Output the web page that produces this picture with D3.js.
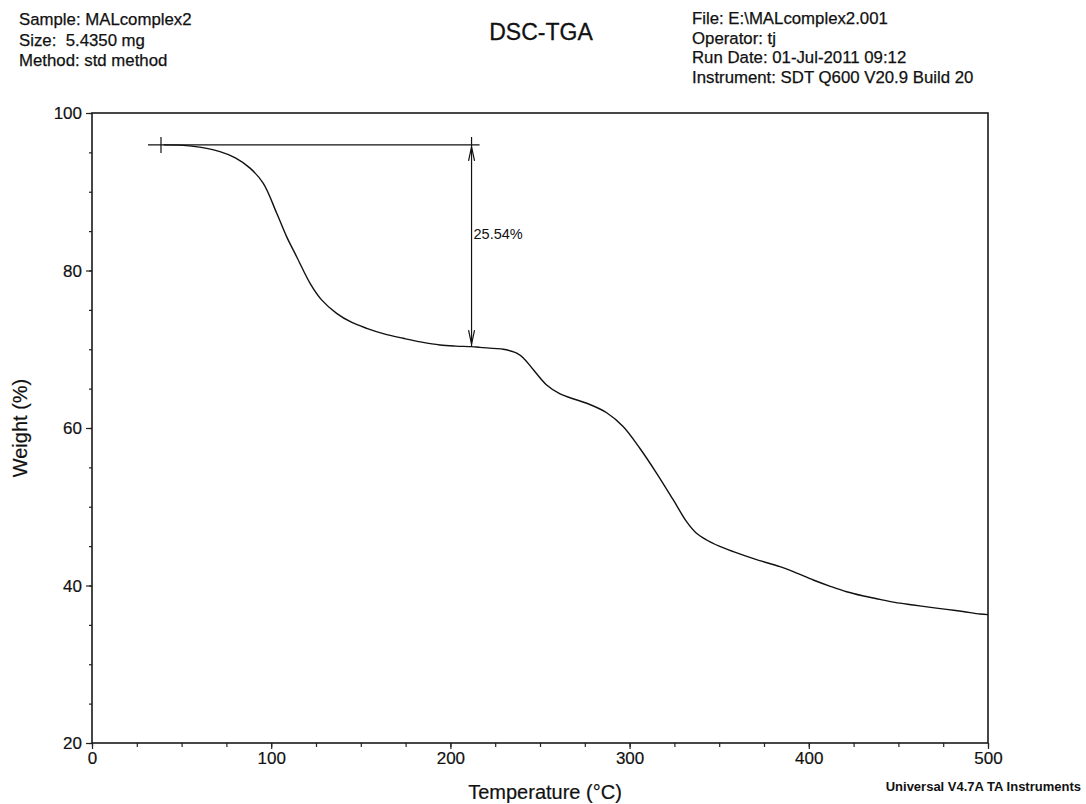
<!DOCTYPE html>
<html>
<head>
<meta charset="utf-8">
<script src="https://cdn.jsdelivr.net/npm/d3@7"></script>
<style>
  html, body { margin: 0; padding: 0; background: #fff; }
  svg { display: block; font-family: "Liberation Sans", Arial, sans-serif; }
  .hdr { font-size: 16.8px; fill: #111; stroke: #111; stroke-width: 0.25px; }
  .tick-label { font-size: 17px; fill: #111; stroke: #111; stroke-width: 0.2px; }
  .axis-title { font-size: 20px; fill: #111; stroke: #111; stroke-width: 0.2px; }
</style>
</head>
<body>
<svg id="chart"></svg>
<script>
// TGA trace: temperature (°C) and weight (%)
const temps = [40, 55.6, 71.4, 80, 88.2, 95.6, 103.1, 108.6, 114.2, 121.7, 128, 136.5, 145, 153.3,
  163, 173.7, 184, 194.2, 203, 211.8, 216.5, 229.5, 233.3, 237, 240.7, 246.3, 253.7, 261.2, 268, 276.1,
  287.2, 296.5, 305.8, 315.1, 324.4, 331.8, 337, 343, 350, 357.9, 370, 383.9, 392, 402.5, 412,
  421.1, 430, 439.7, 448, 458.3, 467, 476.9, 486, 495.5, 500];
const weights = [95.95, 95.8, 95.1, 94.3, 93.0, 91.07, 87.26, 84.3, 81.75, 78.37, 76.3, 74.56, 73.4, 72.66,
  71.95, 71.39, 70.9, 70.54, 70.4, 70.33, 70.24, 70.0, 69.8, 69.5, 68.9, 67.4, 65.46, 64.32, 63.75, 63.14,
  61.94, 60.17, 57.4, 54.25, 50.86, 48.1, 46.7, 45.78, 45.0, 44.3, 43.35, 42.39, 41.7, 40.7, 39.9,
  39.21, 38.7, 38.24, 37.85, 37.52, 37.25, 36.97, 36.7, 36.38, 36.3];

const xMajorTicks = [0, 100, 200, 300, 400, 500];
const yMajorTicks = [20, 40, 60, 80, 100];

const leftHeader = ["Sample: MALcomplex2", "Size:  5.4350 mg", "Method: std method"];
const rightHeader = ["File: E:\\MALcomplex2.001", "Operator: tj", "Run Date: 01-Jul-2011 09:12",
  "Instrument: SDT Q600 V20.9 Build 20"];

// step analysis marker
const stepStartT = 38.5;
const stepEndT = 211.8;
const stepTop = 95.94;
const stepBottom = 70.40;
const stepLabel = "25.54%";

const w = 1086, h = 804;
const margin = { left: 92, right: 98, top: 113, bottom: 61 };

const svg = d3.select("#chart").attr("width", w).attr("height", h);
svg.append("rect").attr("width", w).attr("height", h).attr("fill", "#fff");

const xScale = d3.scaleLinear().domain([0, 500]).range([margin.left, w - margin.right]);
const yScale = d3.scaleLinear().domain([20, 100]).range([h - margin.bottom, margin.top]);

// header texts
svg.selectAll("text.lh").data(leftHeader).enter().append("text")
  .attr("class", "hdr").attr("x", 19).attr("y", (d, i) => 25 + i * 20.5)
  .attr("xml:space", "preserve").text(d => d);
svg.selectAll("text.rh").data(rightHeader).enter().append("text")
  .attr("class", "hdr").attr("x", 692).attr("y", (d, i) => 24 + i * 19.7)
  .text(d => d);
svg.append("text").attr("x", 541).attr("y", 40).attr("text-anchor", "middle")
  .style("font-size", "23px").attr("fill", "#111").attr("stroke", "#111").attr("stroke-width", 0.3)
  .text("DSC-TGA");

// axes
const xMinor = d3.axisBottom(xScale).tickValues(d3.range(0, 501, 25)).tickSize(4).tickFormat("");
const xMajor = d3.axisBottom(xScale).tickValues(xMajorTicks).tickSize(6).tickPadding(3).tickFormat(d3.format("d"));
const yMinor = d3.axisLeft(yScale).tickValues(d3.range(20, 101, 5)).tickSize(3).tickFormat("");
const yMajor = d3.axisLeft(yScale).tickValues(yMajorTicks).tickSize(6).tickPadding(4).tickFormat(d3.format("d"));

const gx = h - margin.bottom;
[xMinor, xMajor].forEach(ax => {
  svg.append("g").attr("transform", "translate(0," + gx + ")").call(ax)
    .call(g => g.select(".domain").remove())
    .call(g => g.selectAll("line").attr("stroke", "#222").attr("stroke-width", 1.2))
    .call(g => g.selectAll("text").attr("class", "tick-label").attr("fill", "#111").style("font-family", null));
});
[yMinor, yMajor].forEach(ax => {
  svg.append("g").attr("transform", "translate(" + margin.left + ",0)").call(ax)
    .call(g => g.select(".domain").remove())
    .call(g => g.selectAll("line").attr("stroke", "#222").attr("stroke-width", 1.2))
    .call(g => g.selectAll("text").attr("class", "tick-label").attr("fill", "#111").attr("dy", "0.35em").style("font-family", null));
});

// frame
svg.append("rect")
  .attr("x", xScale(0)).attr("y", yScale(100))
  .attr("width", xScale(500) - xScale(0)).attr("height", yScale(20) - yScale(100))
  .attr("fill", "none").attr("stroke", "#1a1a1a").attr("stroke-width", 1.6);

// axis titles
svg.append("text").attr("class", "axis-title").attr("x", 545).attr("y", 799)
  .attr("text-anchor", "middle").text("Temperature (°C)");
svg.append("text").attr("class", "axis-title")
  .attr("transform", "translate(27," + ((yScale(100) + yScale(20)) / 2) + ") rotate(-90)")
  .attr("text-anchor", "middle").text("Weight (%)");

svg.append("text").attr("x", 1081).attr("y", 791).attr("text-anchor", "end")
  .style("font-size", "13px").style("font-weight", "bold").attr("fill", "#111")
  .text("Universal V4.7A TA Instruments");

// curve
const dataset = temps.map((t, i) => [t, weights[i]]);
const line = d3.line().x(d => xScale(d[0])).y(d => yScale(d[1])).curve(d3.curveCatmullRom.alpha(0.5));
svg.append("path").datum(dataset).attr("d", line)
  .attr("fill", "none").attr("stroke", "#111").attr("stroke-width", 1.4);

// step change annotation
const ann = svg.append("g").attr("stroke", "#111").attr("stroke-width", 1.2).attr("fill", "none");
const yTop = yScale(stepTop), yBot = yScale(stepBottom);
const xs = xScale(stepStartT), xe = xScale(stepEndT);
ann.append("line").attr("x1", xs - 13).attr("x2", xe + 8).attr("y1", yTop).attr("y2", yTop);
ann.append("line").attr("x1", xs).attr("x2", xs).attr("y1", yTop - 8).attr("y2", yTop + 8);
ann.append("line").attr("x1", xe).attr("x2", xe).attr("y1", yTop - 8).attr("y2", yBot);
ann.append("path").attr("d", `M${xe - 3},${yTop + 16} L${xe},${yTop + 2} L${xe + 3},${yTop + 16}`);
ann.append("path").attr("d", `M${xe - 3},${yBot - 16} L${xe},${yBot - 2} L${xe + 3},${yBot - 16}`);
svg.append("text").attr("x", xe + 2).attr("y", yScale((stepTop + stepBottom) / 2) - 7)
  .style("font-size", "14.5px").attr("fill", "#111").text(stepLabel);
</script>
</body>
</html>
